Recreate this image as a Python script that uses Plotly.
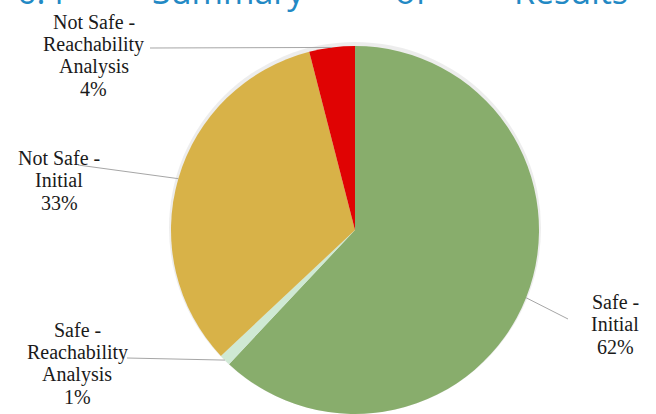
import math
import plotly.graph_objects as go

# ---- data ----
labels = ["Safe - Initial", "Safe - Reachability Analysis",
          "Not Safe - Initial", "Not Safe - Reachability Analysis"]
values = [62, 1, 33, 4]
label_lines = [["Safe -", "Initial"],
               ["Safe -", "Reachability", "Analysis"],
               ["Not Safe -", "Initial"],
               ["Not Safe -", "Reachability", "Analysis"]]
colors = ["#88ad6c", "#cfe9d4", "#d8b248", "#e00303"]
title_words = ["6.4", "Summary", "of", "Results"]

# ---- layout (pixels) ----
W, H = 656, 414
CX, CY, R = 355, 230, 184
# label text centre x, first line y, and leader-line outer end
label_pos = [
    dict(x=615, y0=302, lx=568, ly=319),
    dict(x=77, y0=330, lx=127, ly=358),
    dict(x=59, y0=158, lx=78, ly=165),
    dict(x=94, y0=22, lx=150, ly=48),
]
LINE_SP = 22.3
title_x = [15, 150, 393, 512]

px = lambda x: x / W
py = lambda y: 1 - y / H

fig = go.Figure()
# soft shadow behind the pie
fig.add_trace(go.Pie(
    labels=["shadow"], values=[1], sort=False, textinfo="none",
    hoverinfo="skip", showlegend=False,
    marker=dict(colors=["rgba(0,0,0,0.07)"], line=dict(width=0)),
    domain=dict(x=[px(CX - R - 3), px(CX + R + 3)], y=[py(CY + R), py(CY - R - 4)]),
))
fig.add_trace(go.Pie(
    labels=labels, values=values, sort=False, direction="clockwise",
    rotation=0, marker=dict(colors=colors, line=dict(width=0)),
    textinfo="none", hoverinfo="label+percent", showlegend=False,
    domain=dict(x=[px(CX - R), px(CX + R)], y=[py(CY + R), py(CY - R)]),
))

annotations = []
shapes = []
total = sum(values)
cum = 0
for i, v in enumerate(values):
    mid = (cum + v / 2) / total * 2 * math.pi
    cum += v
    ex = CX + R * math.sin(mid)
    ey = CY - R * math.cos(mid)
    p = label_pos[i]
    shapes.append(dict(type="line", xref="paper", yref="paper",
                       x0=px(p["lx"]), y0=py(p["ly"]), x1=px(ex), y1=py(ey),
                       line=dict(color="#a6a6a6", width=1)))
    lines = label_lines[i] + [f"{round(v / total * 100)}%"]
    for k, t in enumerate(lines):
        annotations.append(dict(
            text=t, xref="paper", yref="paper", x=px(p["x"]),
            y=py(p["y0"] + k * LINE_SP), xanchor="center", yanchor="middle",
            showarrow=False,
            font=dict(family="Liberation Serif", size=20, color="#1a1a1a")))

for w, x in zip(title_words, title_x):
    annotations.append(dict(
        text=w, xref="paper", yref="paper", x=px(x), y=py(16),
        xanchor="left", yanchor="bottom", showarrow=False,
        font=dict(family="Open Sans", size=34, color="#2389c4")))

fig.update_layout(
    width=W, height=H, margin=dict(l=0, r=0, t=0, b=0),
    paper_bgcolor="white", plot_bgcolor="white",
    xaxis=dict(visible=False), yaxis=dict(visible=False),
    annotations=annotations, shapes=shapes,
)
fig.write_html("out.html")
